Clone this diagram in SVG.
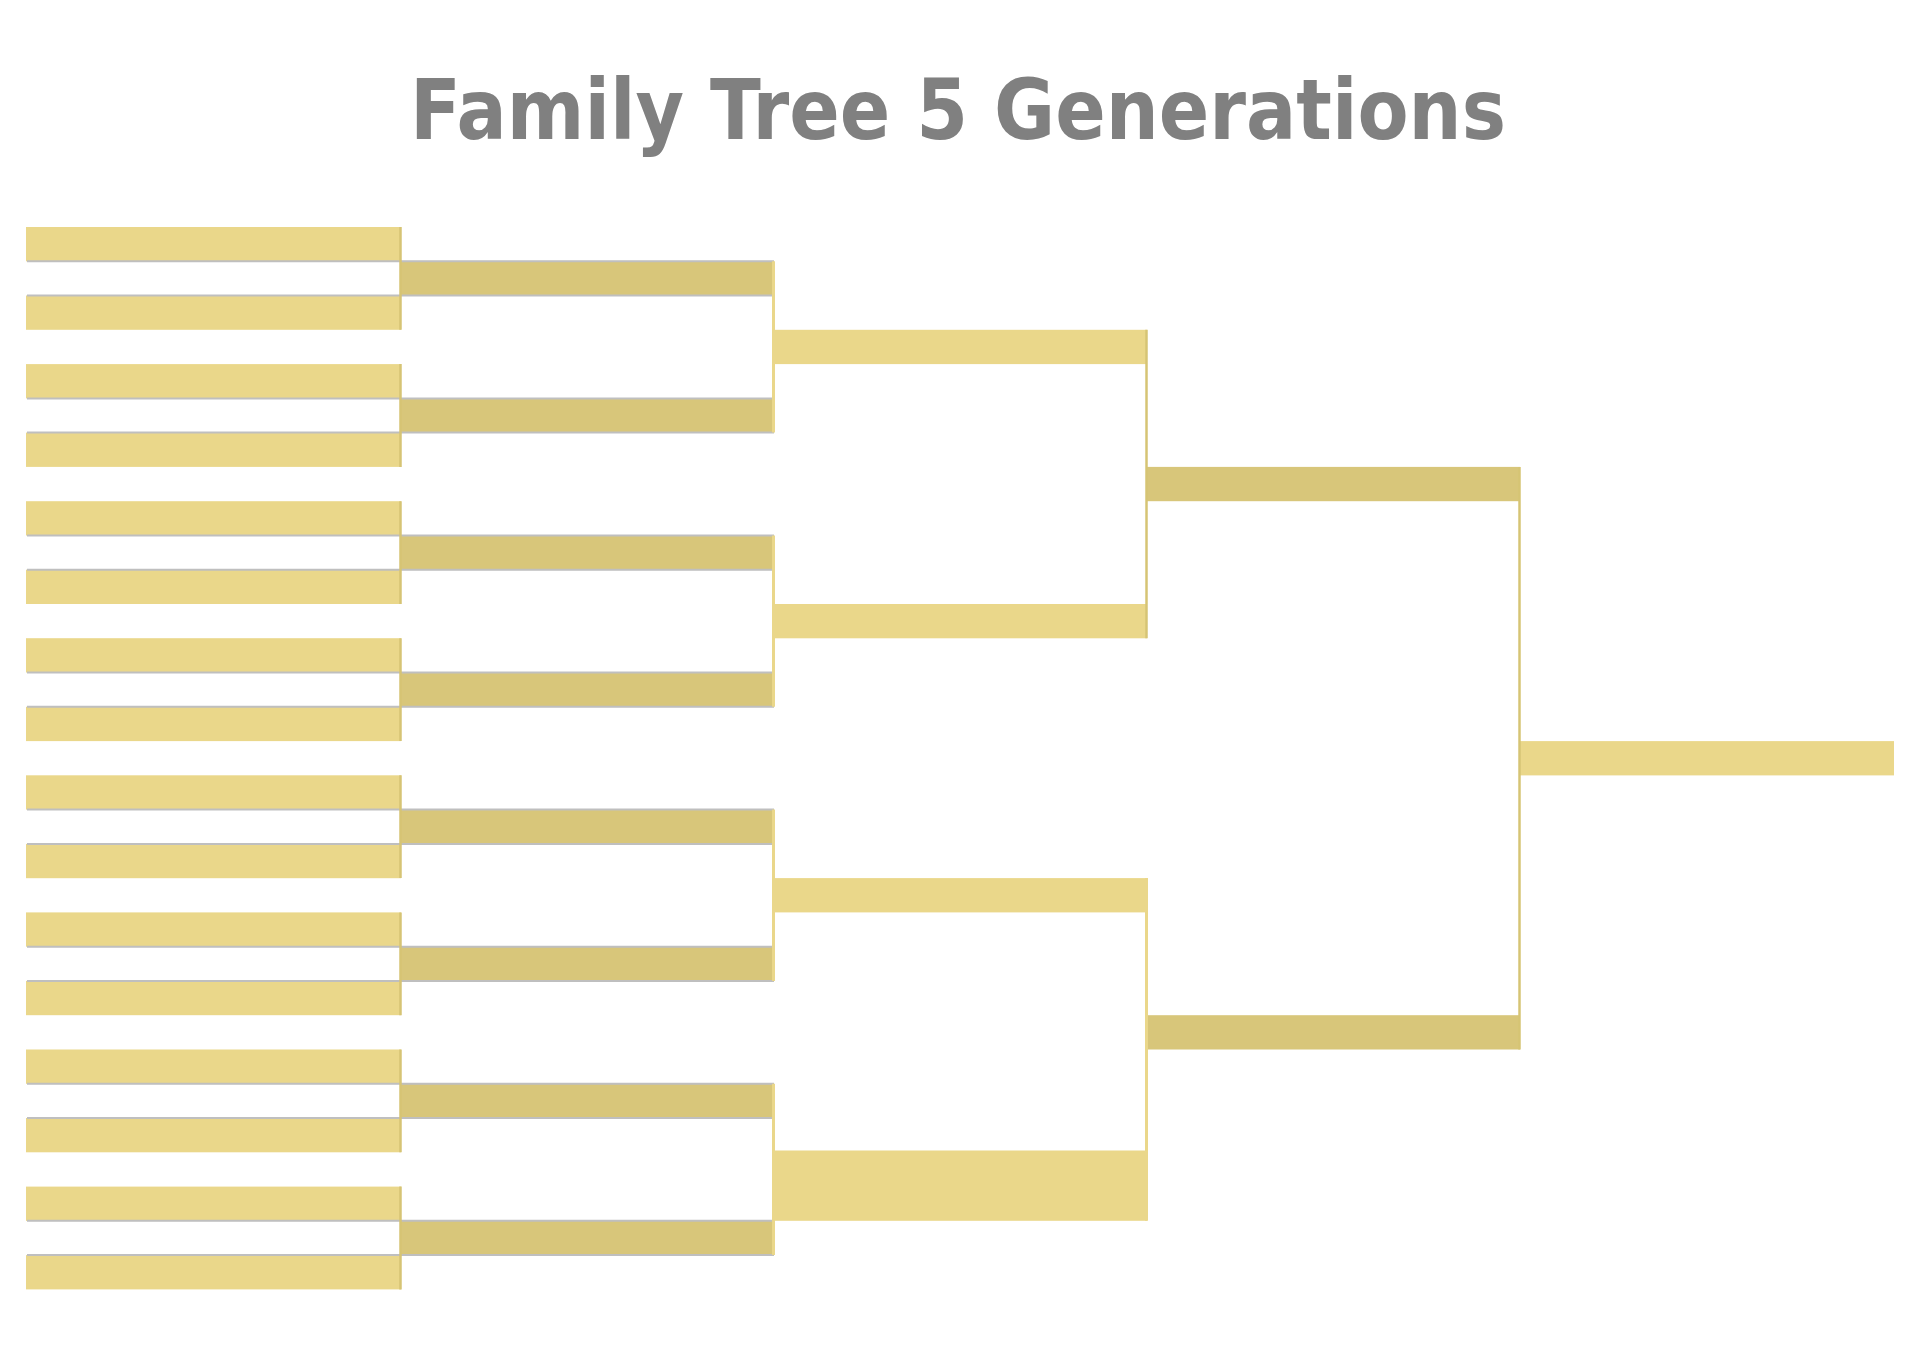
<svg xmlns="http://www.w3.org/2000/svg" width="1920" height="1364" viewBox="0 0 1920 1364">
<style>
.title{font-family:"DejaVu Sans","Liberation Sans",sans-serif;font-weight:bold;font-size:84px;fill:#808080}
.lt{fill:#EAD78A}
.dk{fill:#D8C67A}
.g{stroke:#BFBFBF;stroke-width:2;fill:none}
.vl{stroke:#EAD78A;stroke-width:3;fill:none}
.vd{stroke:#D6C474;stroke-width:2.5;fill:none}
</style>
<rect width="1920" height="1364" fill="#FFFFFF"/>
<text class="title" x="958" y="139" text-anchor="middle" textLength="1096" lengthAdjust="spacingAndGlyphs">Family Tree 5 Generations</text>
<g id="gen5">
<rect id="p16" class="lt" x="26" y="227.0" width="375" height="34.3"/>
<rect id="p17" class="lt" x="26" y="295.5" width="375" height="34.3"/>
<rect id="p18" class="lt" x="26" y="364.1" width="375" height="34.3"/>
<rect id="p19" class="lt" x="26" y="432.6" width="375" height="34.3"/>
<rect id="p20" class="lt" x="26" y="501.2" width="375" height="34.3"/>
<rect id="p21" class="lt" x="26" y="569.7" width="375" height="34.3"/>
<rect id="p22" class="lt" x="26" y="638.2" width="375" height="34.3"/>
<rect id="p23" class="lt" x="26" y="706.8" width="375" height="34.3"/>
<rect id="p24" class="lt" x="26" y="775.3" width="375" height="34.3"/>
<rect id="p25" class="lt" x="26" y="843.9" width="375" height="34.3"/>
<rect id="p26" class="lt" x="26" y="912.4" width="375" height="34.3"/>
<rect id="p27" class="lt" x="26" y="980.9" width="375" height="34.3"/>
<rect id="p28" class="lt" x="26" y="1049.5" width="375" height="34.3"/>
<rect id="p29" class="lt" x="26" y="1118.0" width="375" height="34.3"/>
<rect id="p30" class="lt" x="26" y="1186.6" width="375" height="34.3"/>
<rect id="p31" class="lt" x="26" y="1255.1" width="375" height="34.3"/>
</g>
<g id="gen4">
<rect id="p8" class="dk" x="401" y="261.3" width="373" height="34.3"/>
<rect id="p9" class="dk" x="401" y="398.4" width="373" height="34.3"/>
<rect id="p10" class="dk" x="401" y="535.4" width="373" height="34.3"/>
<rect id="p11" class="dk" x="401" y="672.5" width="373" height="34.3"/>
<rect id="p12" class="dk" x="401" y="809.6" width="373" height="34.3"/>
<rect id="p13" class="dk" x="401" y="946.7" width="373" height="34.3"/>
<rect id="p14" class="dk" x="401" y="1083.8" width="373" height="34.3"/>
<rect id="p15" class="dk" x="401" y="1220.8" width="373" height="34.3"/>
</g>
<g id="gen3">
<rect id="p4" class="lt" x="773" y="329.8" width="374" height="34.3"/>
<rect id="p5" class="lt" x="773" y="604.0" width="374" height="34.3"/>
<rect id="p6" class="lt" x="773" y="878.1" width="374" height="34.3"/>
<rect id="p7" class="lt" x="773" y="1150.5" width="374" height="70.3"/>
</g>
<g id="gen2">
<rect id="p2" class="dk" x="1146" y="466.9" width="374" height="34.3"/>
<rect id="p3" class="dk" x="1146" y="1015.2" width="374" height="34.3"/>
</g>
<g id="gen1">
<rect id="p1" class="lt" x="1520" y="741.1" width="374" height="34.3"/>
</g>
<g id="connectors">
<path class="g" d="M27 261.3H774M27 295.5H774M27 398.4H774M27 432.6H774M27 535.4H774M27 569.7H774M27 672.5H774M27 706.8H774M27 809.6H774M27 843.9H774M27 946.7H774M27 980.9H774M27 1083.8H774M27 1118.0H774M27 1220.8H774M27 1255.1H774"/>
<path class="vd" d="M400.5 227V329.8M400.5 364.1V466.9M400.5 501.2V604M400.5 638.2V741.1M400.5 775.3V878.1M400.5 912.4V1015.2M400.5 1049.5V1152.3M400.5 1186.6V1289.4"/>
<path class="vl" d="M773.5 261.3V432.6M773.5 535.4V706.8M773.5 809.6V980.9M773.5 1083.8V1255.1"/>
<path class="vd" d="M1146.5 329.8V638.2"/>
<path class="vl" d="M1146.5 878.1V1220.8"/>
<path class="vd" d="M1519.5 466.9V1049.5"/>
</g>
</svg>
